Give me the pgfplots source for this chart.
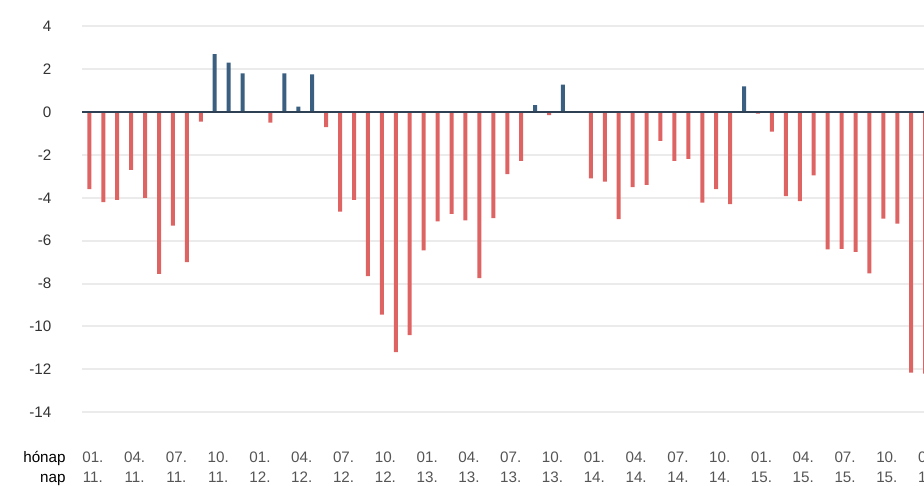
\documentclass[border=0pt]{standalone}
\usepackage{pgfplots}
\pgfplotsset{compat=1.18}
\usepackage{fontspec}
\setmainfont{Liberation Sans}
\definecolor{negc}{HTML}{DE6464}
\definecolor{posc}{HTML}{3A5F80}
\definecolor{zeroc}{HTML}{2D4054}
\definecolor{gridc}{HTML}{EBEBEB}
\definecolor{ylab}{HTML}{333333}
\definecolor{xlab}{HTML}{555555}
\begin{document}
\begin{tikzpicture}
\path[use as bounding box] (0,0) rectangle (462pt,243pt);
\clip (0,0) rectangle (462pt,243pt);
\begin{axis}[
  scale only axis,
  width=435.3pt, height=193.05pt,
  at={(41.2pt,36.85pt)}, anchor=south west,
  xmin=-0.5, xmax=62, ymin=-14, ymax=4,
  axis line style={draw=none},
  major tick length=0pt,
  ytick={-14,-12,...,4},
  ymajorgrids=true,
  grid style={gridc, line width=1pt},
  /pgf/number format/assume math mode=true,
  yticklabel style={font=\fontsize{7.6pt}{9pt}\selectfont, text=ylab, anchor=east, inner sep=0pt, xshift=-15.35pt},
  xtick={0,3,...,60},
  xticklabels={01.,04.,07.,10.,01.,04.,07.,10.,01.,04.,07.,10.,01.,04.,07.,10.,01.,04.,07.,10.,01.},
  xticklabel style={font=\fontsize{7.6pt}{9pt}\selectfont, text=xlab, anchor=base, inner sep=0pt, xshift=1.75pt, yshift=-25.1pt},
  extra x ticks={0,3,...,60},
  extra x tick labels={11.,11.,11.,11.,12.,12.,12.,12.,13.,13.,13.,13.,14.,14.,14.,14.,15.,15.,15.,15.,16.},
  extra x tick style={grid=none, xticklabel style={yshift=-10pt}},
  clip=false,
]
\addplot[ybar, bar width=2pt, bar shift=0pt, fill=negc, draw=none] coordinates {
(0,-3.6) (1,-4.2) (2,-4.1) (3,-2.7) (4,-4.0) (5,-7.55) (6,-5.3) (7,-7.0) (8,-0.45)
(13,-0.5) (17,-0.7) (18,-4.65) (19,-4.1) (20,-7.65) (21,-9.45) (22,-11.2) (23,-10.4)
(24,-6.45) (25,-5.1) (26,-4.75) (27,-5.05) (28,-7.75) (29,-4.95) (30,-2.9) (31,-2.28)
(33,-0.15) (36,-3.1) (37,-3.25) (38,-5.0) (39,-3.5) (40,-3.4) (41,-1.35) (42,-2.28)
(43,-2.18) (44,-4.22) (45,-3.6) (46,-4.3) (48,-0.08) (49,-0.92) (50,-3.92) (51,-4.15)
(52,-2.95) (53,-6.4) (54,-6.38) (55,-6.52) (56,-7.52) (57,-4.97) (58,-5.2) (59,-12.15) (60,-12.2)
};
\addplot[ybar, bar width=2pt, bar shift=0pt, fill=posc, draw=none] coordinates {
(9,2.7) (10,2.3) (11,1.8) (14,1.8) (15,0.25) (16,1.75) (32,0.32) (34,1.28) (47,1.2)
};
\addplot[zeroc, line width=1pt] coordinates {(-0.5,0) (62,0)};
\end{axis}
\node[anchor=base east, inner sep=0pt, font=\fontsize{7.6pt}{9pt}\selectfont] at (33pt,11.75pt) {hónap};
\node[anchor=base east, inner sep=0pt, font=\fontsize{7.6pt}{9pt}\selectfont] at (33pt,1.75pt) {nap};
\end{tikzpicture}
\end{document}
